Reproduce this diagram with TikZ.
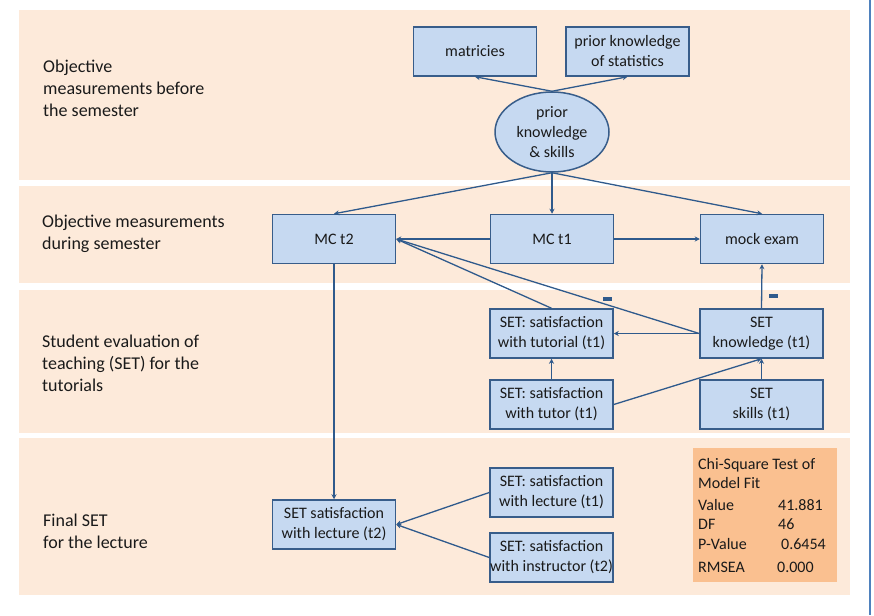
\documentclass[tikz,border=0pt]{standalone}
\usepackage{fontspec}
\setmainfont{Carlito}
\usetikzlibrary{arrows.meta,shapes.geometric}
\definecolor{band}{HTML}{FDEADA}
\definecolor{boxfill}{HTML}{C6D9F1}
\definecolor{boxline}{HTML}{385D8A}
\definecolor{arr}{HTML}{2F5A8C}
\definecolor{chi}{HTML}{FAC090}
\definecolor{edgeline}{HTML}{4F81BD}
\definecolor{txt}{HTML}{1A1A1A}
\begin{document}
\begin{tikzpicture}[x=1pt,y=-1pt,
  box/.style={draw=boxline, line width=1.5pt, fill=boxfill, minimum width=123pt, minimum height=49pt, inner sep=0pt, align=center, font=\fontsize{16}{20}\selectfont, text=txt},
  ell/.style={ellipse, draw=boxline, line width=1.5pt, fill=boxfill, minimum width=114pt, minimum height=80pt, inner sep=0pt, align=center, font=\fontsize{16}{20}\selectfont, text=txt},
  lbl/.style={anchor=west, align=left, font=\fontsize{18}{22}\selectfont, inner sep=0pt, text=txt},
  chitxt/.style={anchor=base west, inner sep=0pt, font=\fontsize{16}{19}\selectfont, text=txt},
  conn/.style={draw=arr, line width=1.3pt, -{Stealth[length=5pt,width=5pt]}},
  minus/.style={fill=arr, minimum width=9pt, minimum height=3.5pt, inner sep=0pt},
  ]
\useasboundingbox (0,0) rectangle (874,615);
\fill[white] (0,0) rectangle (874,615);
% bands
\fill[band] (19,10) rectangle (850,180);
\fill[band] (19,186) rectangle (850,283);
\fill[band] (19,290) rectangle (850,433);
\fill[band] (19,438) rectangle (850,595);
\draw[edgeline, line width=2pt] (870,0) -- (870,615);

% band labels
\node[lbl] (L1) at (43,88) {Objective\\measurements before\\the semester};
\node[lbl] (L2) at (42,233.5) {Objective measurements\\during semester};
\node[lbl] (L3) at (42,363.5) {Student evaluation of\\teaching (SET) for the\\tutorials};
\node[lbl] (L4) at (43,531) {Final SET\\for the lecture};

% nodes
\node[box] (mat) at (475,51.5) {matricies};
\node[box] (pstat) at (627.5,51.5) {prior knowledge\\of statistics};
\node[ell] (prior) at (552,132) {prior\\knowledge\\\& skills};
\node[box] (mct2) at (334,239) {MC t2};
\node[box] (mct1) at (552,239) {MC t1};
\node[box] (mock) at (762,239) {mock exam};
\node[box] (tutorial) at (551.5,333.5) {SET: satisfaction\\with tutorial (t1)};
\node[box] (know) at (761.5,333.5) {SET\\knowledge (t1)};
\node[box] (tutor) at (551.5,404.5) {SET: satisfaction\\with tutor (t1)};
\node[box] (skills) at (761.5,404.5) {SET\\skills (t1)};
\node[box] (lect2) at (334,524.5) {SET satisfaction\\with lecture (t2)};
\node[box] (lect1) at (551.5,492.5) {SET: satisfaction\\with lecture (t1)};
\node[box] (instr) at (551.5,557.5) {SET: satisfaction\\with instructor (t2)};

% connectors
\draw[conn] (prior.north) -- (mat.south);
\draw[conn] (prior.north) -- (pstat.south);
\draw[conn] (prior.south) -- (mct2.north);
\draw[conn] (prior.south) -- (mct1.north);
\draw[conn] (prior.south) -- (mock.north);
\draw[conn] (mct1.west) -- (mct2.east);
\draw[conn] (mct1.east) -- (mock.west);
\draw[conn] (tutorial.north) -- (mct2.east);
\draw[conn] (know.west) -- (mct2.east);
\draw[conn] (know.west) -- (tutorial.east);
\draw[conn] (know.north) -- (mock.south);
\draw[conn] (tutor.north) -- (tutorial.south);
\draw[conn] (tutor.east) -- (know.south);
\draw[conn] (skills.north) -- (know.south);
\draw[conn] (mct2.south) -- (lect2.north);
\draw[conn] (lect1.west) -- (lect2.east);
\draw[conn] (instr.west) -- (lect2.east);

\node[minus] (m1) at (607,299) {};
\node[minus] (m2) at (773,296) {};

% chi-square box
\fill[chi] (693,448) rectangle (837,582);
\node[chitxt] (c1) at (698,469) {Chi-Square Test of};
\node[chitxt] (c2) at (698,488) {Model Fit};
\node[chitxt] (c3) at (698,510) {Value};
\node[chitxt] (c3v) at (778,510) {41.881};
\node[chitxt] (c4) at (698,529) {DF};
\node[chitxt] (c4v) at (778,529) {46};
\node[chitxt] (c5) at (698,549) {P-Value};
\node[chitxt] (c5v) at (781,549) {0.6454};
\node[chitxt] (c6) at (698,572) {RMSEA};
\node[chitxt] (c6v) at (777,572) {0.000};
\end{tikzpicture}
\end{document}
